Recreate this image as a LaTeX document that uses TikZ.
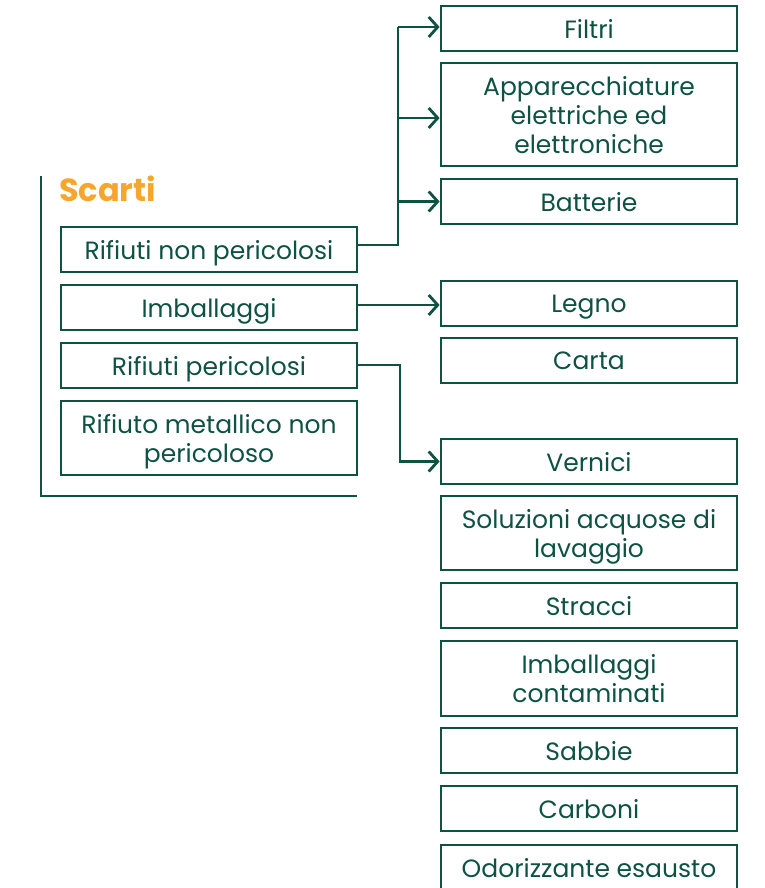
\documentclass[tikz,border=0pt]{standalone}
\usepackage{fontspec}
\setmainfont{Poppins}
\usetikzlibrary{arrows.meta}
\definecolor{dg}{RGB}{14,82,66}
\definecolor{og}{RGB}{245,166,45}
\tikzset{
  box/.style={draw=dg, line width=2.8pt, text=dg, minimum width=296pt, align=center, inner sep=0pt, text depth=0pt, font=\fontsize{25}{29}\selectfont},
  conn/.style={draw=dg, line width=2.8pt},
  arr/.style={conn, -{Straight Barb[length=9pt, width=20pt, line width=2.8pt]}}
}
\begin{document}
\begin{tikzpicture}[x=1pt, y=-1pt]
\useasboundingbox (0,0) rectangle (764,888);
\clip (0,0) rectangle (764,888);
% left column
\node[box, minimum height=45pt] (rnp) at (209,249.5) {Rifiuti non pericolosi};
\node[box, minimum height=45pt] (imb) at (209,307.5) {Imballaggi};
\node[box, minimum height=45pt] (rp) at (209,365.5) {Rifiuti pericolosi};
\node[box, minimum height=74pt] (rm) at (209,438) {Rifiuto metallico non\\pericoloso};
\node[text=og, font=\fontsize{32}{36}\selectfont\bfseries, anchor=base west, inner sep=0pt] (scarti) at (59,201) {Scarti};
\coordinate (bt) at (41,176);
\coordinate (bb) at (41,496);
\coordinate (br) at (357,496);
\draw[conn] (bt) -- (bb) -- (br);
% right column
\node[box, minimum height=45pt] (fil) at (589,28.5) {Filtri};
\node[box, minimum height=103pt] (app) at (589,114.5) {Apparecchiature\\elettriche ed\\elettroniche};
\node[box, minimum height=45pt] (bat) at (589,201.5) {Batterie};
\node[box, minimum height=45pt] (leg) at (589,303.5) {Legno};
\node[box, minimum height=45pt] (car) at (589,360.5) {Carta};
\node[box, minimum height=45pt] (ver) at (589,461.5) {Vernici};
\node[box, minimum height=74pt] (sol) at (589,533) {Soluzioni acquose di\\lavaggio};
\node[box, minimum height=45pt] (str) at (589,605.5) {Stracci};
\node[box, minimum height=75pt] (imc) at (589,678.5) {Imballaggi\\contaminati};
\node[box, minimum height=45pt] (sab) at (589,750.5) {Sabbie};
\node[box, minimum height=45pt] (cb) at (589,808.5) {Carboni};
\node[box, minimum height=46pt] (odo) at (589,868) {Odorizzante esausto};
% connectors
\coordinate (j1) at (398,245);
\draw[conn] (rnp.east |- j1) -- (j1) -- (398,27);
\draw[arr] (398,27) -- (fil.west |- 0,27);
\draw[arr] (398,118) -- (app.west |- 0,118);
\draw[arr] (398,201.5) -- (bat.west);
\draw[arr] (imb.east |- 0,305) -- (leg.west |- 0,305);
\coordinate (j2) at (400,365);
\draw[arr] (rp.east |- j2) -- (j2) |- (ver.west);
\end{tikzpicture}
\end{document}
